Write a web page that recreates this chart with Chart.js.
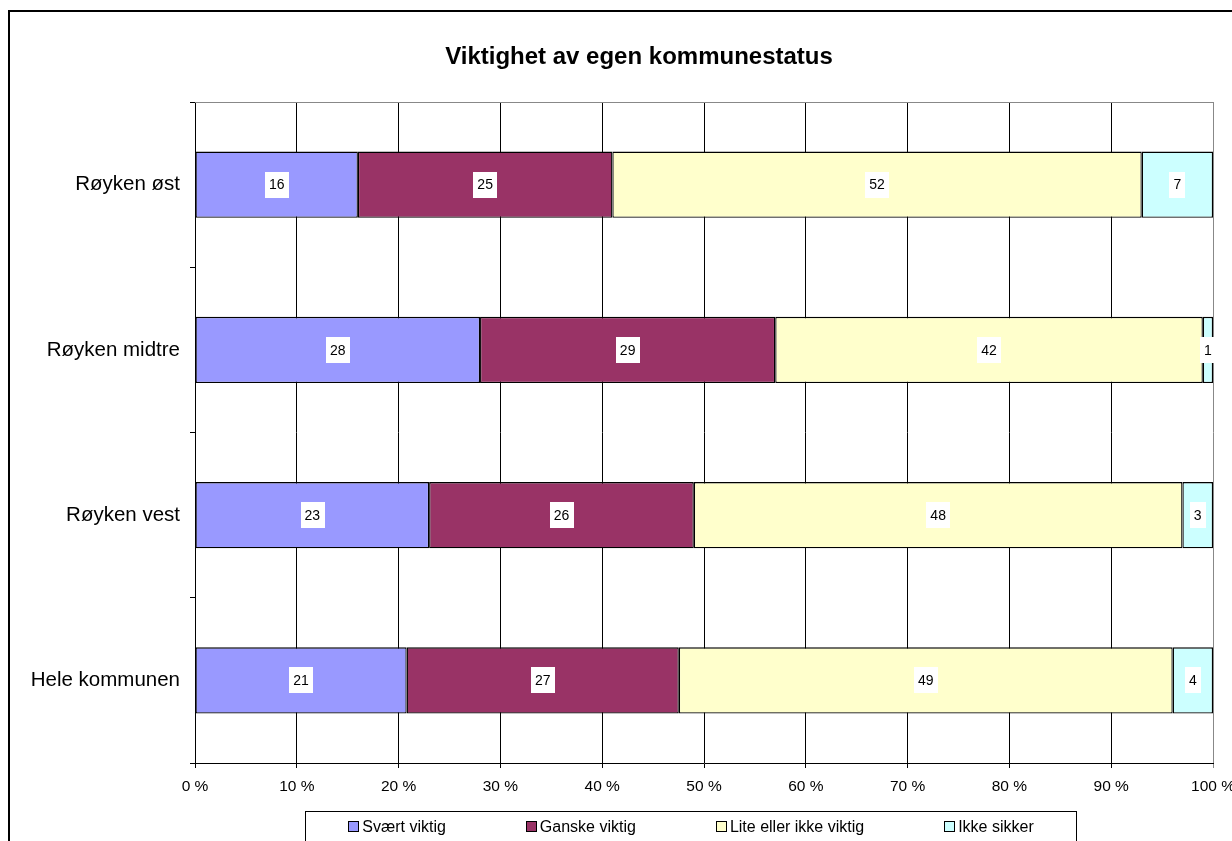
<!DOCTYPE html>
<html>
<head>
<meta charset="utf-8">
<title>Viktighet av egen kommunestatus</title>
<script src="https://cdn.jsdelivr.net/npm/chart.js@4.4.0/dist/chart.umd.min.js"></script>
<style>
  html, body { margin: 0; padding: 0; background: #fff; overflow: hidden; }
  #wrap { position: relative; width: 1232px; height: 841px; }
</style>
</head>
<body>
<div id="wrap"><canvas id="kommuneChart"></canvas></div>
<script>
// data (answers per area, shown as 100 % stacked)
const categories = ["Røyken øst", "Røyken midtre", "Røyken vest", "Hele kommunen"];
const seriesNames = ["Svært viktig", "Ganske viktig", "Lite eller ikke viktig", "Ikke sikker"];
const svaertViktig = [16, 28, 23, 21];
const ganskeViktig = [25, 29, 26, 27];
const liteViktig = [52, 42, 48, 49];
const ikkeSikker = [7, 1, 3, 4];
const seriesColors = ["#9999FF", "#993366", "#FFFFCC", "#CCFFFF"];
const tickStep = 10;

const rawSeries = [svaertViktig, ganskeViktig, liteViktig, ikkeSikker];
const totals = categories.map((_, i) => rawSeries.reduce((s, arr) => s + arr[i], 0));
const toShare = arr => arr.map((v, i) => v / totals[i] * 100);

const FONT = "'Liberation Sans', Arial, sans-serif";
Chart.defaults.font.family = FONT;
Chart.defaults.color = "#000";

// white background, outer frame and plot top line
const framePlugin = {
  id: "frame",
  afterLayout(chart) {
    // title is centred a bit right of the canvas middle in the original
    if (chart.titleBlock) chart.titleBlock.left = 65;
  },
  beforeDraw(chart) {
    const c = chart.ctx;
    c.save();
    c.fillStyle = "#fff";
    c.fillRect(0, 0, chart.width, chart.height);
    c.strokeStyle = "#000";
    c.lineWidth = 2;
    c.strokeRect(9, 11, chart.width + 40, chart.height + 40);
    c.restore();
  },
  beforeDatasetsDraw(chart) {
    const a = chart.chartArea;
    const c = chart.ctx;
    c.save();
    c.strokeStyle = "#888";
    c.lineWidth = 1;
    c.beginPath();
    c.moveTo(a.left, Math.round(a.top) + 0.5);
    c.lineTo(a.right, Math.round(a.top) + 0.5);
    c.stroke();
    c.restore();
  }
};

// value labels on white boxes
const labelPlugin = {
  id: "valueLabels",
  afterDatasetsDraw(chart) {
    const c = chart.ctx;
    c.save();
    c.font = "14px " + FONT;
    c.textAlign = "center";
    c.textBaseline = "middle";
    chart.data.datasets.forEach((ds, di) => {
      chart.getDatasetMeta(di).data.forEach((bar, i) => {
        const txt = String(rawSeries[di][i]);
        const cx = (bar.x + bar.base) / 2;
        const w = c.measureText(txt).width + 8;
        const h = 26;
        c.fillStyle = "#fff";
        c.fillRect(Math.round(cx - w / 2), Math.round(bar.y - h / 2), Math.round(w), h);
        c.fillStyle = "#000";
        c.fillText(txt, cx, bar.y + 1);
      });
    });
    c.restore();
  }
};

// Excel-style boxed legend along the bottom
const legendPlugin = {
  id: "boxLegend",
  afterDraw(chart) {
    const c = chart.ctx;
    c.save();
    c.font = "16px " + FONT;
    c.textBaseline = "middle";
    const marker = 11, gapText = 3, gap = 80;
    const widths = seriesNames.map(n => marker + gapText + c.measureText(n).width);
    const total = widths.reduce((s, w) => s + w, 0) + gap * (widths.length - 1);
    const centerX = 691, midY = 827;
    let x = centerX - total / 2;
    c.strokeStyle = "#000";
    c.lineWidth = 1;
    c.strokeRect(Math.round(x - 43) + 0.5, 811.5, Math.round(total + 86), 40);
    seriesNames.forEach((n, i) => {
      c.fillStyle = seriesColors[i];
      c.fillRect(Math.round(x) + 0.5, midY - 5.5, marker - 1, marker - 1);
      c.strokeRect(Math.round(x) + 0.5, midY - 5.5, marker - 1, marker - 1);
      c.fillStyle = "#000";
      c.fillText(n, x + marker + gapText, midY + 1);
      x += widths[i] + gap;
    });
    c.restore();
  }
};

const ctx = document.getElementById("kommuneChart").getContext("2d");

new Chart(ctx, {
  type: "bar",
  data: {
    labels: categories,
    datasets: rawSeries.map((arr, i) => ({
      label: seriesNames[i],
      data: toShare(arr),
      backgroundColor: seriesColors[i],
      borderColor: "#000",
      borderWidth: 1.3,
      borderSkipped: false,
      barPercentage: 0.4,
      categoryPercentage: 1
    }))
  },
  options: {
    indexAxis: "y",
    responsive: true,
    maintainAspectRatio: false,
    animation: false,
    layout: { padding: { left: 12, right: 19, top: 0, bottom: 0 } },
    plugins: {
      legend: { display: false },
      tooltip: { enabled: false },
      title: {
        display: true,
        text: "Viktighet av egen kommunestatus",
        color: "#000",
        font: { size: 24, weight: "bold" },
        padding: { top: 42.6, bottom: 30.6 }
      }
    },
    scales: {
      x: {
        stacked: true,
        min: 0,
        max: 100,
        ticks: {
          stepSize: tickStep,
          color: "#000",
          font: { size: 15.5 },
          padding: 9,
          maxRotation: 0,
          callback: v => v + " %"
        },
        grid: {
          color: c => (c.tick && c.tick.value === 100 ? "#888" : "#000"),
          lineWidth: 1,
          tickLength: 5
        },
        border: { color: "#000" },
        afterFit(scale) {
          scale.height = 78;
          scale.paddingLeft = 0;
          scale.paddingRight = 0;
        }
      },
      y: {
        stacked: true,
        ticks: { color: "#000", font: { size: 20.5 }, padding: 10 },
        grid: { drawOnChartArea: false, offset: true, tickLength: 5, color: "#000" },
        border: { color: "#000" },
        afterFit(scale) {
          scale.width = 183;
        }
      }
    }
  },
  plugins: [framePlugin, labelPlugin, legendPlugin]
});
</script>
</body>
</html>
